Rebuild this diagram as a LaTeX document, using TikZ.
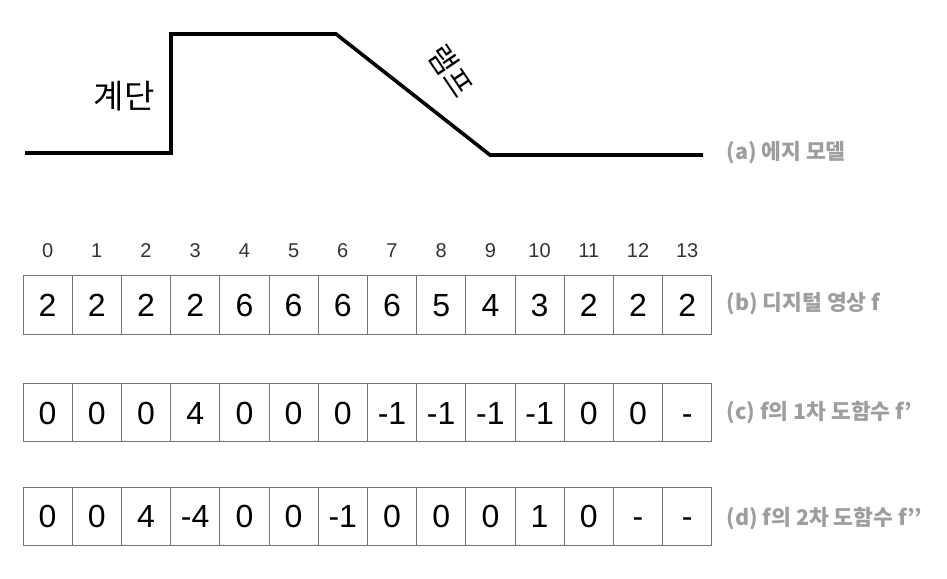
\documentclass[tikz,border=0pt]{standalone}
\usepackage{fontspec}
\setmainfont{Liberation Sans}
\newfontfamily\kr{Noto Sans CJK KR}
\begin{document}
\begin{tikzpicture}[x=1pt,y=-1pt,
  cell/.style={draw=black!55, line width=0.9pt, minimum width=49.2pt, minimum height=58.5pt, inner sep=0pt, text height=23pt, text depth=0pt, font=\fontsize{32}{32}\selectfont, text=black},
  idx/.style={font=\fontsize{20}{20}\selectfont, text=black!80, text height=14pt, text depth=0pt},
  lbl/.style={anchor=west, font=\fontsize{21.5}{21.5}\selectfont\bfseries\kr, text=black!38},
  edge/.style={line width=3.6pt, line join=miter}]
\useasboundingbox (0,0) rectangle (947,578);
% edge model
\coordinate (e0) at (25,153);
\coordinate (e1) at (171,153);
\coordinate (e2) at (171,34);
\coordinate (e3) at (336,34);
\coordinate (e4) at (490,155);
\coordinate (e5) at (703,155);
\draw[edge] (e0) -- (e1) -- (e2) -- (e3) -- (e4) -- (e5);
\node[font=\fontsize{33}{33}\selectfont\kr] (step) at (124,96) {계단};
\node[font=\fontsize{30}{30}\selectfont\kr, rotate=-56, inner sep=0pt] (ramp) at (451,71) {램프};
\node[lbl] (la) at (723,153) {(a) 에지 모델};
% rows
\foreach \v [count=\i from 0] in {0,...,13} {
  \node[idx] (i\i) at (47.6+49.2*\i,250.5) {\v};
}
\foreach \v [count=\i from 0] in {2,2,2,2,6,6,6,6,5,4,3,2,2,2} {
  \node[cell] (b\i) at (47.6+49.2*\i,304.8) {\v};
}
\foreach \v [count=\i from 0] in {0,0,0,4,0,0,0,-1,-1,-1,-1,0,0,-} {
  \node[cell] (c\i) at (47.6+49.2*\i,412.6) {\v};
}
\foreach \v [count=\i from 0] in {0,0,4,-4,0,0,-1,0,0,0,1,0,-,-} {
  \node[cell] (d\i) at (47.6+49.2*\i,516.2) {\v};
}
\node[lbl] (lb) at (723,304) {(b) 디지털 영상 f};
\node[lbl] (lc) at (723,413) {(c) f의 1차 도함수 f’};
\node[lbl] (ld) at (723,519) {(d) f의 2차 도함수 f’’};
\end{tikzpicture}
\end{document}
